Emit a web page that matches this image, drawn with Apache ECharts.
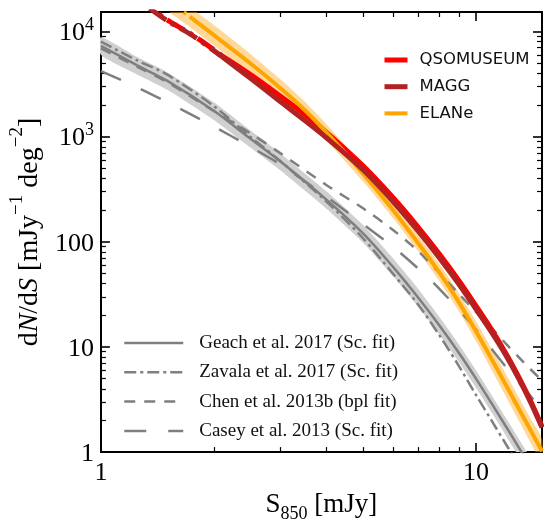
<!DOCTYPE html>
<html>
<head>
<meta charset="utf-8">
<script src="https://cdn.jsdelivr.net/npm/echarts@6/dist/echarts.min.js"></script>
<style>
  body { margin: 0; background: #fff; }
  #main { width: 544px; height: 528px; }
</style>
</head>
<body>
<div id="main"></div>
<script>
// S850 grid (mJy) for the literature fits
var litX = [1, 1.25, 1.5, 2, 2.5, 3, 4, 5, 6, 7, 8, 9, 10, 11, 12, 13, 14, 15];
var geach = [7300, 4750, 3400, 1760, 960, 585, 250, 120, 58, 29.7, 15.9, 8.8, 5.0, 2.92, 1.77, 1.11, 0.72, 0.47];
var geachHi = [8800, 5700, 4100, 2120, 1150, 700, 300, 144, 70, 36, 19.2, 10.6, 6.0, 3.5, 2.13, 1.34, 0.87, 0.57];
var geachLo = [6000, 3900, 2800, 1440, 790, 480, 205, 98, 47.5, 24.3, 13, 7.2, 4.1, 2.4, 1.45, 0.91, 0.59, 0.38];
var zavalaX = [1, 1.25, 1.5, 2, 2.5, 3, 4, 5, 6, 7, 8, 9, 10, 11, 12, 13];
var zavala = [8000, 5300, 3900, 1950, 1000, 590, 240, 108, 50, 25.5, 12.8, 6.6, 3.5, 2.0, 1.2, 0.75];
var chen = [6900, 4600, 3300, 1750, 1080, 700, 345, 208, 130, 82, 50, 32, 21.5, 15.2, 10.8, 8.0, 6.1, 4.8];
var casey = [4200, 2940, 2130, 1250, 800, 547, 267, 147, 90, 56, 35.5, 22.5, 14.7, 9.6, 6.5, 4.6, 3.4, 2.5];

// QSO-field fits (solid = data range, dash-dot = extrapolation)
var fitX = [2.1, 2.5, 3, 3.5, 4, 5, 6, 7, 8, 9, 10, 11, 12, 13, 14, 15];
var qso = [5900, 3915, 2450, 1620, 1090, 527, 265, 139, 76, 42.8, 24.6, 14.7, 8.75, 5.2, 3.04, 1.75];
var magg = [5780, 3600, 2170, 1420, 970, 484, 243, 127.5, 69.9, 39.6, 22.9, 13.8, 8.38, 5.0, 2.95, 1.71];
var extX = [1.35, 1.5, 1.75, 2, 2.1];
var qsoExt = [16700, 12900, 9300, 6700, 5900];
var maggExt = [16500, 12700, 9200, 6570, 5780];

var elaneX = [1.85, 2, 2.5, 3, 3.5, 4, 5, 6, 7, 8, 9, 10, 11, 12, 13, 14, 15];
var elane = [11400, 9220, 4980, 2916, 1782, 1089, 445, 202, 97.9, 50.5, 26.7, 14.1, 7.7, 4.4, 2.6, 1.6, 1.02];
var elaneExtX = [1.5, 1.7, 1.85];
var elaneExt = [20300, 14400, 11400];
var elaneBandX = [1.5, 1.7, 1.85, 2, 2.5, 3, 3.5, 4, 5, 6, 7, 8, 9, 10, 11, 12, 13, 14, 15];
var elaneHi = [25400, 18000, 14200, 11500, 6150, 3550, 2140, 1300, 530, 240, 117, 61, 32.5, 17.5, 9.7, 5.6, 3.35, 2.08, 1.34];
var elaneLo = [16200, 11500, 9100, 7400, 4000, 2400, 1490, 915, 374, 170, 82, 42, 22, 11.4, 6.1, 3.4, 2.0, 1.22, 0.78];

// ticks
var xMajor = [1, 10];
var xLabels = ['1', '10'];
var yMajor = [1, 10, 100, 1000, 10000];
var yLabels = ['{b|1}', '{b|10}', '{b|100}', '{b|10}{sup|3}', '{b|10}{sup|4}'];
var minorSteps = [2, 3, 4, 5, 6, 7, 8, 9];
var yDecades = [1, 10, 100, 1000];

var xMinor = minorSteps.slice();
var yMinor = [];
yDecades.forEach(function (d) {
    minorSteps.forEach(function (m) { yMinor.push(d * m); });
});

function pairs(xs, ys) {
    return xs.map(function (x, i) { return [x, ys[i]]; });
}

var serif = "'Liberation Serif', 'DejaVu Serif', serif";
var black = '#000';
var gray = '#7f7f7f';

var myChart = echarts.init(document.getElementById('main'));

function xAx(pos, ticks, len, main) {
    return {
        type: 'log', min: 1, max: 15, position: pos,
        axisLine: { show: main, onZero: false, lineStyle: { color: black, width: 2 } },
        axisTick: { show: true, inside: true, length: len, customValues: ticks,
            lineStyle: { color: black, width: len > 6 ? 1.6 : 1.2 } },
        axisLabel: { show: false },
        splitLine: { show: false }
    };
}
function yAx(pos, ticks, len, main) {
    return {
        type: 'log', min: 1, max: 15300, position: pos,
        axisLine: { show: main, onZero: false, lineStyle: { color: black, width: 2 } },
        axisTick: { show: true, inside: true, length: len, customValues: ticks,
            lineStyle: { color: black, width: len > 6 ? 1.6 : 1.2 } },
        axisLabel: { show: false },
        splitLine: { show: false }
    };
}

var xAxes = [xAx('bottom', xMajor, 9, true), xAx('bottom', xMinor, 5, false),
             xAx('top', xMajor, 9, true), xAx('top', xMinor, 5, false)];
var yAxes = [yAx('left', yMajor, 9, true), yAx('left', yMinor, 5, false),
             yAx('right', yMajor, 9, true), yAx('right', yMinor, 5, false)];

xAxes[0].axisLabel = {
    show: true, customValues: xMajor, margin: 8,
    fontFamily: serif, fontSize: 26, color: black,
    formatter: function (v) { return xLabels[Math.round(Math.log10(v))]; }
};
xAxes[0].name = '{b|S}{sub|850}{b| [mJy]}';
xAxes[0].nameLocation = 'middle';
xAxes[0].nameGap = 29;
xAxes[0].nameTextStyle = {
    rich: {
        b: { fontFamily: serif, fontSize: 27, color: black, verticalAlign: 'top', lineHeight: 32 },
        sub: { fontFamily: serif, fontSize: 18, color: black, verticalAlign: 'bottom', lineHeight: 32 }
    }
};

yAxes[0].axisLabel = {
    show: true, customValues: yMajor, margin: 7,
    formatter: function (v) { return yLabels[Math.round(Math.log10(v))]; },
    rich: {
        b: { fontFamily: serif, fontSize: 26, color: black, verticalAlign: 'bottom', lineHeight: 30 },
        sup: { fontFamily: serif, fontSize: 18, color: black, verticalAlign: 'top', lineHeight: 30 }
    }
};
yAxes[0].name = '{b|d}{it|N}{b|/d}{it|S}{b| [mJy}{sup|\u22121}{b| deg}{sup|\u22122}{b|]}';
yAxes[0].nameLocation = 'middle';
yAxes[0].nameGap = 52;
yAxes[0].nameTextStyle = {
    rich: {
        b: { fontFamily: serif, fontSize: 28, color: black, verticalAlign: 'bottom', lineHeight: 36 },
        it: { fontFamily: serif, fontSize: 28, fontStyle: 'italic', color: black, verticalAlign: 'bottom', lineHeight: 36 },
        sup: { fontFamily: serif, fontSize: 19, color: black, verticalAlign: 'top', lineHeight: 36 }
    }
};

function curve(name, xs, ys, color, width, dash, offset) {
    return {
        name: name, type: 'line', data: pairs(xs, ys),
        symbol: 'none', smooth: 0.3, silent: true,
        lineStyle: { color: color, width: width, type: dash || 'solid', dashOffset: offset || 0, cap: 'butt' },
        itemStyle: { color: color }
    };
}

// shaded uncertainty band: polygon between upper and lower curve
function band(xs, hi, lo, color) {
    return {
        type: 'custom', silent: true, clip: true,
        data: xs.map(function (x, i) { return [x, hi[i], lo[i]]; }),
        encode: { x: 0, y: [1, 2] },
        renderItem: function (params, api) {
            if (params.dataIndex !== 0) return null;
            var top = xs.map(function (x, i) { return api.coord([x, hi[i]]); });
            var bot = xs.map(function (x, i) { return api.coord([x, lo[i]]); }).reverse();
            return {
                type: 'polygon',
                shape: { points: top.concat(bot), smooth: 0.2 },
                style: { fill: color }
            };
        }
    };
}

var dashDot = [20, 6, 4, 6];

var series = [
    band(litX, geachHi, geachLo, '#d0d0d0'),
    curve('Geach et al. 2017 (Sc. fit)', litX, geach, gray, 2.5),
    curve('Zavala et al. 2017 (Sc. fit)', zavalaX, zavala, gray, 2.5, [12, 4, 3, 4]),
    curve('Chen et al. 2013b (bpl fit)', litX, chen, gray, 2.5, [11, 9]),
    curve('Casey et al. 2013 (Sc. fit)', litX, casey, gray, 2.5, [22, 22]),
    band(elaneBandX, elaneHi, elaneLo, 'rgba(255,170,30,0.45)'),
    curve('QSOMUSEUM', fitX, qso, '#ff0000', 5),
    curve('QSOMUSEUM ext', extX, qsoExt, '#ff0000', 5, dashDot, 15),
    curve('ELANe', elaneX, elane, '#ffa500', 4),
    curve('ELANe ext', elaneExtX, elaneExt, '#ffa500', 4, [16, 5, 3, 5]),
    curve('MAGG', fitX, magg, '#b22222', 5),
    curve('MAGG ext', extX, maggExt, '#b22222', 5, dashDot)
];

var option = {
    animation: false,
    backgroundColor: '#fff',
    grid: { left: 93, top: 12, width: 449, height: 452 },
    xAxis: xAxes,
    yAxis: yAxes,
    legend: [
        {
            data: ['QSOMUSEUM', 'MAGG', 'ELANe'],
            orient: 'vertical', left: 382, top: 50, padding: 0,
            itemWidth: 23, itemHeight: 14, itemGap: 6.7, selectedMode: false,
            lineStyle: { width: 'inherit' },
            itemStyle: { opacity: 0 },
            textStyle: { fontFamily: "'DejaVu Sans', sans-serif", fontSize: 16.5, color: '#111',
                lineHeight: 20, padding: [0, 0, 0, 7] }
        },
        {
            data: ['Geach et al. 2017 (Sc. fit)', 'Zavala et al. 2017 (Sc. fit)',
                   'Chen et al. 2013b (bpl fit)', 'Casey et al. 2013 (Sc. fit)'],
            orient: 'vertical', left: 123, top: 332, padding: 0,
            itemWidth: 59, itemHeight: 14, itemGap: 7.3, selectedMode: false,
            lineStyle: { width: 'inherit' },
            itemStyle: { opacity: 0 },
            textStyle: { fontFamily: serif, fontSize: 19, color: '#111',
                lineHeight: 22, padding: [0, 0, 0, 11] }
        }
    ],
    series: series
};

myChart.setOption(option);
</script>
</body>
</html>
